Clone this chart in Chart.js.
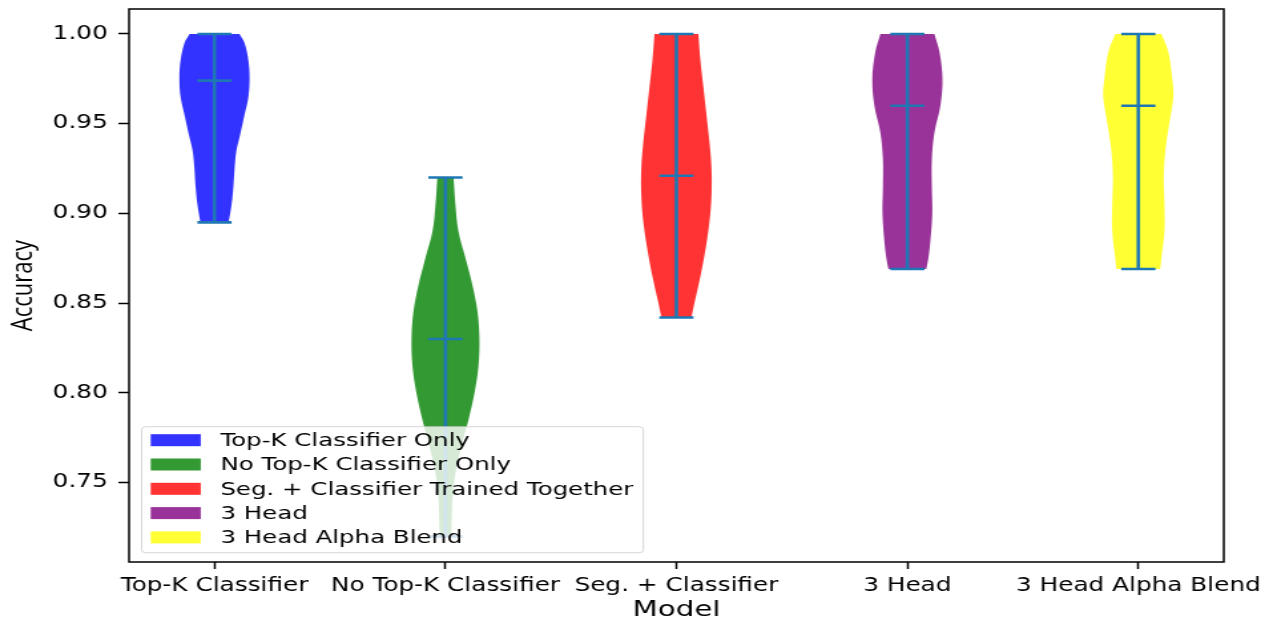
<!DOCTYPE html>
<html>
<head>
<meta charset="utf-8">
<script src="https://cdn.jsdelivr.net/npm/chart.js@4/dist/chart.umd.min.js"></script>
<style>
    html, body { margin: 0; padding: 0; background: #fff; }
</style>
</head>
<body>
<!-- the figure is horizontally stretched, so the canvas is drawn narrower and scaled up by css -->
<canvas id="myChart" width="957" height="625" style="display:block;width:1273px;height:625px"></canvas>
<script>
// categories and legend names
var categories = ["Top-K Classifier", "No Top-K Classifier", "Seg. + Classifier", "3 Head", "3 Head Alpha Blend"];
var legendLabels = ["Top-K Classifier Only", "No Top-K Classifier Only", "Seg. + Classifier Trained Together", "3 Head", "3 Head Alpha Blend"];

// summary values
var mins = [0.895, 0.720, 0.842, 0.869, 0.869];
var maxs = [1.000, 0.920, 1.000, 1.000, 1.000];
var medians = [0.974, 0.830, 0.921, 0.960, 0.960];

// violin outline: accuracy levels (top to bottom) and half widths in category units
var densityLevels = [
    [1.000, 0.995, 0.985, 0.975, 0.965, 0.955, 0.945, 0.935, 0.925, 0.915, 0.905, 0.895],
    [0.920, 0.905, 0.890, 0.875, 0.860, 0.845, 0.830, 0.815, 0.800, 0.785, 0.770, 0.755, 0.740, 0.725, 0.720],
    [1.000, 0.985, 0.970, 0.955, 0.940, 0.925, 0.910, 0.895, 0.880, 0.865, 0.850, 0.842],
    [1.000, 0.990, 0.975, 0.960, 0.945, 0.930, 0.915, 0.900, 0.885, 0.875, 0.869],
    [1.000, 0.990, 0.975, 0.965, 0.950, 0.935, 0.920, 0.905, 0.890, 0.875, 0.869]
];
var densityWidths = [
    [0.108, 0.130, 0.147, 0.152, 0.147, 0.130, 0.113, 0.095, 0.087, 0.082, 0.074, 0.061],
    [0.035, 0.043, 0.056, 0.087, 0.117, 0.139, 0.147, 0.143, 0.126, 0.100, 0.069, 0.043, 0.030, 0.026, 0.024],
    [0.095, 0.104, 0.117, 0.130, 0.143, 0.152, 0.152, 0.143, 0.126, 0.104, 0.078, 0.065],
    [0.117, 0.139, 0.152, 0.143, 0.117, 0.106, 0.106, 0.108, 0.100, 0.091, 0.082],
    [0.100, 0.130, 0.147, 0.152, 0.134, 0.117, 0.110, 0.113, 0.113, 0.100, 0.095]
];

var yTicks = [0.75, 0.80, 0.85, 0.90, 0.95, 1.00];
var xRange = [0.63, 5.37];
var yRange = [0.7057, 1.0139];

var violinColors = ["rgba(0,0,255,0.8)", "rgba(0,128,0,0.8)", "rgba(255,0,0,0.8)", "rgba(128,0,128,0.8)", "rgba(255,255,0,0.8)"];
var lineColor = "#1f77b4";
var capHalf = 0.074;


// outline of one violin, right side going down then left side going up
function violinPoints(i) {
    var c = i + 1;
    var lv = densityLevels[i];
    var wd = densityWidths[i];
    var right = lv.map(function (y, k) { return {x: c + wd[k], y: y}; });
    var left = lv.map(function (y, k) { return {x: c - wd[k], y: y}; }).reverse();
    // repeat the bottom corners so the bottom edge stays flat
    right.push(right[right.length - 1]);
    left.unshift(left[0]);
    return right.concat(left);
}

// max / min / median bars and the centre line
function statPoints(i) {
    var c = i + 1;
    var gap = {x: c, y: null};
    return [
        {x: c - capHalf, y: maxs[i]}, {x: c + capHalf, y: maxs[i]}, gap,
        {x: c, y: maxs[i]}, {x: c, y: mins[i]}, gap,
        {x: c - capHalf, y: mins[i]}, {x: c + capHalf, y: mins[i]}, gap,
        {x: c - capHalf, y: medians[i]}, {x: c + capHalf, y: medians[i]}
    ];
}

var datasets = [];
categories.forEach(function (cat, i) {
    datasets.push({
        label: legendLabels[i],
        data: violinPoints(i),
        showLine: true,
        fill: "shape",
        backgroundColor: violinColors[i],
        borderWidth: 0,
        pointRadius: 0,
        tension: 0.35,
        order: 1
    });
});
categories.forEach(function (cat, i) {
    datasets.push({
        label: "stats " + cat,
        data: statPoints(i),
        showLine: true,
        fill: false,
        borderColor: lineColor,
        borderWidth: 2.6,
        pointRadius: 0,
        tension: 0,
        order: 0
    });
});


// frame around the plot and the legend box in the lower left
var frameLegend = {
    id: "frameLegend",
    afterDatasetsDraw: function (chart) {
        var ctx = chart.ctx;
        var a = chart.chartArea;
        ctx.save();
        ctx.strokeStyle = "#000";
        ctx.lineWidth = 1.5;
        ctx.strokeRect(a.left, a.top, a.right - a.left, a.bottom - a.top);

        ctx.font = '18.4px "DejaVu Sans"';
        var textW = 0;
        legendLabels.forEach(function (t) {
            textW = Math.max(textW, ctx.measureText(t).width);
        });
        var padL = 6.8, patchW = 37.6, patchH = 12, gap = 14.8, padR = 7.5, rowH = 24.3;
        var w = padL + patchW + gap + textW + padR;
        var h = 126;
        var x0 = a.left + 9.5;
        var y0 = a.bottom - 9.3 - h;

        ctx.beginPath();
        ctx.roundRect(x0, y0, w, h, 3);
        ctx.fillStyle = "rgba(255,255,255,0.8)";
        ctx.fill();
        ctx.strokeStyle = "rgba(204,204,204,0.8)";
        ctx.lineWidth = 1;
        ctx.stroke();

        legendLabels.forEach(function (t, i) {
            var cy = y0 + 13.5 + i * rowH;
            ctx.fillStyle = violinColors[i];
            ctx.fillRect(x0 + padL, cy - patchH / 2, patchW, patchH);
            ctx.fillStyle = "#000";
            ctx.textBaseline = "middle";
            ctx.textAlign = "left";
            ctx.fillText(t, x0 + padL + patchW + gap, cy + 1);
        });
        ctx.restore();
    }
};

Chart.defaults.font.family = "DejaVu Sans";
Chart.defaults.color = "#000";

var canvas = document.getElementById("myChart");
var myChart = new Chart(canvas.getContext("2d"), {
    type: "scatter",
    data: {datasets: datasets},
    plugins: [frameLegend],
    options: {
        responsive: false,
        devicePixelRatio: 1,
        animation: false,
        layout: {padding: {left: 0, top: 9, right: 37, bottom: 0}},
        plugins: {
            legend: {display: false},
            tooltip: {enabled: false}
        },
        scales: {
            x: {
                type: "linear",
                min: xRange[0],
                max: xRange[1],
                afterBuildTicks: function (scale) {
                    scale.ticks = categories.map(function (c, i) { return {value: i + 1}; });
                },
                afterFit: function (scale) {
                    scale.height = 63;
                    scale.paddingLeft = 0;
                    scale.paddingRight = 0;
                },
                ticks: {
                    autoSkip: false,
                    maxRotation: 0,
                    minRotation: 0,
                    padding: 6,
                    color: "#000",
                    font: {size: 18.6},
                    callback: function (v) { return categories[Math.round(v) - 1]; }
                },
                grid: {drawOnChartArea: false, tickLength: 7, tickColor: "#000", tickWidth: 1.5},
                border: {display: false},
                title: {
                    display: true,
                    text: "Model",
                    color: "#000",
                    font: {size: 22},
                    padding: {top: 0, bottom: 2}
                }
            },
            y: {
                min: yRange[0],
                max: yRange[1],
                afterBuildTicks: function (scale) {
                    scale.ticks = yTicks.map(function (v) { return {value: v}; });
                },
                afterFit: function (scale) {
                    scale.width = 97;
                    scale.paddingTop = 0;
                    scale.paddingBottom = 0;
                },
                ticks: {
                    padding: 8,
                    color: "#000",
                    font: {size: 18.6},
                    callback: function (v) { return v.toFixed(2); }
                },
                grid: {drawOnChartArea: false, tickLength: 8, tickColor: "#000", tickWidth: 1.5},
                border: {display: false},
                title: {
                    display: true,
                    text: "Accuracy",
                    color: "#000",
                    font: {family: "Open Sans", size: 22},
                    padding: {top: 5, bottom: 0}
                }
            }
        }
    }
});
</script>
</body>
</html>
